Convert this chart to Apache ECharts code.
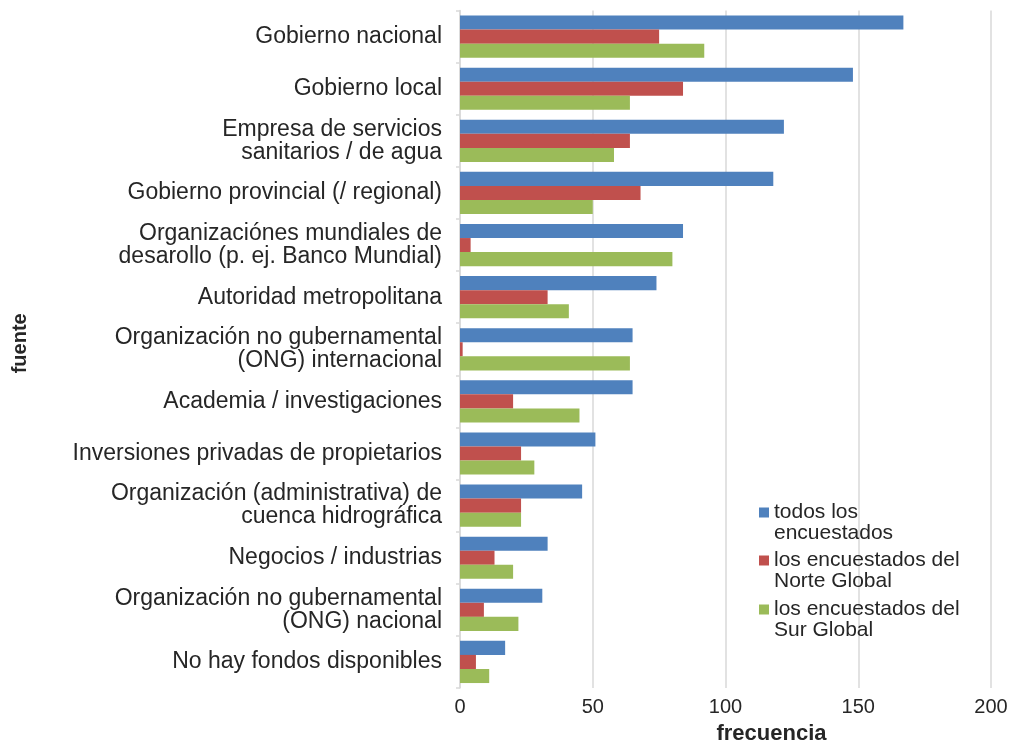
<!DOCTYPE html>
<html>
<head>
<meta charset="utf-8">
<script src="https://cdn.jsdelivr.net/npm/echarts@6/dist/echarts.min.js"></script>
<style>
  html, body { margin: 0; padding: 0; background: #fff; }
  #chart { width: 1010px; height: 744px; }
</style>
</head>
<body>
<div id="chart"></div>
<script>
const categories = [
  'Gobierno nacional',
  'Gobierno local',
  'Empresa de servicios\nsanitarios / de agua',
  'Gobierno provincial (/ regional)',
  'Organizaciónes mundiales de\ndesarollo (p. ej. Banco Mundial)',
  'Autoridad metropolitana',
  'Organización no gubernamental\n(ONG) internacional',
  'Academia / investigaciones',
  'Inversiones privadas de propietarios',
  'Organización (administrativa) de\ncuenca hidrográfica',
  'Negocios / industrias',
  'Organización no gubernamental\n(ONG) nacional',
  'No hay fondos disponibles'
];
const seriesNames = [
  'todos los\nencuestados',
  'los encuestados del\nNorte Global',
  'los encuestados del\nSur Global'
];
const todos = [167, 148, 122, 118, 84, 74, 65, 65, 51, 46, 33, 31, 17];
const norte = [75, 84, 64, 68, 4, 33, 1, 20, 23, 23, 13, 9, 6];
const sur = [92, 64, 58, 50, 80, 41, 64, 45, 28, 23, 20, 22, 11];
const xTicks = [0, 50, 100, 150, 200];

const colors = ['#4F81BD', '#C0504D', '#9BBB59'];
const font = "'Liberation Sans', Arial, Helvetica, sans-serif";
const textColor = '#262626';

const chart = echarts.init(document.getElementById('chart'));

// one legend per series so each can be placed on its own
const legendTops = [481, 529, 578];
const legends = seriesNames.map((name, i) => ({
  data: [name],
  left: 759,
  top: legendTops[i],
  padding: 0,
  icon: 'rect',
  itemWidth: 10,
  itemHeight: 10,
  itemGap: 5,
  selectedMode: false,
  // empty first line keeps the square level with the first text line
  formatter: n => '\n' + n,
  textStyle: {
    fontFamily: font,
    fontSize: 21,
    lineHeight: 21,
    color: textColor
  }
}));

const option = {
  animation: false,
  color: colors,
  textStyle: { fontFamily: font },
  legend: legends,
  grid: {
    left: 460, right: 19, top: 10.6, bottom: 56,
    containLabel: false, outerBoundsMode: 'none'
  },
  xAxis: {
    type: 'value',
    min: xTicks[0],
    max: xTicks[xTicks.length - 1],
    interval: 50,
    name: 'frecuencia',
    nameLocation: 'middle',
    nameGap: 35,
    nameTextStyle: {
      fontFamily: font, fontSize: 22, fontWeight: 'bold', color: textColor,
      padding: [0, 0, 0, 92]
    },
    axisLine: { show: false },
    axisTick: { show: false },
    axisLabel: { fontFamily: font, fontSize: 20, color: textColor, margin: 9 },
    splitLine: { lineStyle: { color: '#d9d9d9', width: 1.5 } }
  },
  yAxis: {
    type: 'category',
    data: categories,
    inverse: true,
    name: 'fuente',
    nameLocation: 'middle',
    nameGap: 430,
    nameRotate: 90,
    nameTextStyle: {
      fontFamily: font, fontSize: 20, fontWeight: 'bold', color: textColor,
      padding: [0, 0, 0, 12]
    },
    axisLine: { show: true, lineStyle: { color: '#d9d9d9', width: 1.5 } },
    axisTick: { show: true, length: 4, lineStyle: { color: '#d9d9d9', width: 1.5 } },
    axisLabel: { fontFamily: font, fontSize: 23, lineHeight: 23, color: textColor, margin: 18 }
  },
  series: [
    { name: seriesNames[0], type: 'bar', data: todos, barGap: '0%', barCategoryGap: '19%' },
    { name: seriesNames[1], type: 'bar', data: norte, barGap: '0%', barCategoryGap: '19%' },
    { name: seriesNames[2], type: 'bar', data: sur, barGap: '0%', barCategoryGap: '19%' }
  ]
};

chart.setOption(option);
</script>
</body>
</html>
